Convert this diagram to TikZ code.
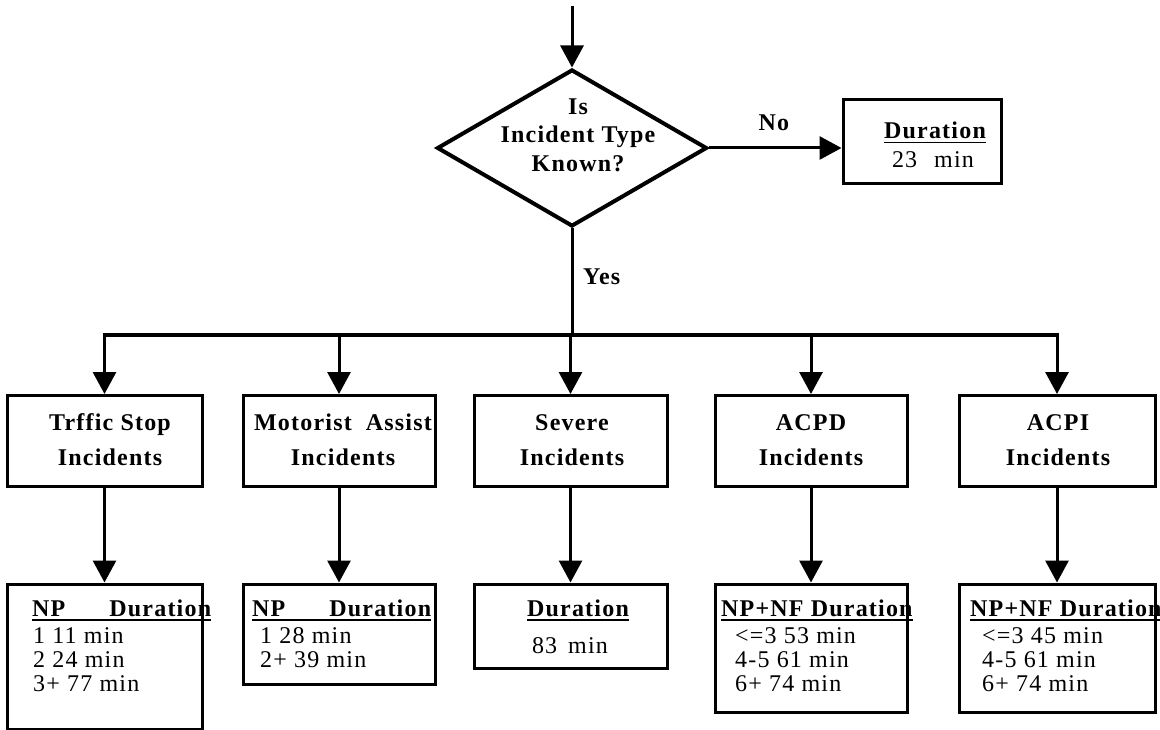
\documentclass[tikz,border=0pt]{standalone}
\usepackage{fontspec}
\setmainfont{Liberation Serif}
\newfontfamily\spaced{Liberation Serif}[LetterSpace=5]
\usetikzlibrary{shapes.geometric,arrows.meta}
% underline drawn as a rule under the whole box of text
\newcommand\ulbox[1]{\setbox0=\hbox{#1}\rlap{\rule[-4.5pt]{\wd0}{1.8pt}}\box0}

\begin{document}
\begin{tikzpicture}[x=1pt,y=-1pt,
  box/.style={draw,line width=3pt,rectangle,inner sep=0pt},
  lbl/.style={font=\spaced\bfseries\fontsize{24}{35}\selectfont,align=center,inner sep=0pt},
  qlbl/.style={font=\spaced\bfseries\fontsize{24}{28.5}\selectfont,align=center,inner sep=0pt},
  txt/.style={font=\spaced\fontsize{24}{28}\selectfont,inner sep=0pt,anchor=base west},
  ctxt/.style={font=\spaced\fontsize{24}{28}\selectfont,inner sep=0pt,anchor=base},
  hdr/.style={font=\spaced\bfseries\fontsize{24}{28}\selectfont,inner sep=0pt,anchor=base west},
  chdr/.style={font=\spaced\bfseries\fontsize{24}{28}\selectfont,inner sep=0pt,anchor=base},
  link/.style={line width=3pt},
  arr/.style={line width=3pt,-{Triangle[width=23pt,length=22pt]}},
]
\useasboundingbox (0,0) rectangle (1160,730);

% decision
\node[diamond,draw,line width=4pt,inner sep=0pt,minimum width=270pt,minimum height=157pt] (q) at (572,148) {};
\node[qlbl] (qt) at (578,135) {Is\\Incident Type\\Known?};
\coordinate (in) at (572,6);

% unknown type
\node[box,minimum width=158pt,minimum height=84pt] (d0) at (922,142) {};
\node[chdr] (d0h) at (935,139) {\ulbox{Duration}};
\node[ctxt] (d0v) at (933,168) {23\hspace{17pt}min};

% incident types
\node[box,minimum width=195pt,minimum height=91pt] (ts) at (104.5,441) {};
\node[box,minimum width=192pt,minimum height=91pt] (ma) at (339,441) {};
\node[box,minimum width=193pt,minimum height=91pt] (sv) at (570.5,441) {};
\node[box,minimum width=192pt,minimum height=91pt] (ap) at (811,441) {};
\node[box,minimum width=196pt,minimum height=91pt] (ai) at (1057,441) {};
\node[lbl] (tst) at (110,440) {Trffic Stop\\Incidents};
\node[lbl] (mat) at (343,440) {Motorist\hspace{14pt}Assist\\Incidents};
\node[lbl] (svt) at (572,440) {Severe\\Incidents};
\node[lbl] (apt) at (811,440) {ACPD\\Incidents};
\node[lbl] (ait) at (1058,440) {ACPI\\Incidents};

% durations per type
\node[box,minimum width=195pt,minimum height=145pt] (tsr) at (104.5,656.5) {};
\node[box,minimum width=192pt,minimum height=100pt] (mar) at (339,634) {};
\node[box,minimum width=193pt,minimum height=84pt] (svr) at (570.5,626) {};
\node[box,minimum width=192pt,minimum height=128pt] (apr) at (811,648) {};
\node[box,minimum width=196pt,minimum height=128pt] (air) at (1057,648) {};

\node[hdr] (tsh) at (32,616) {\ulbox{NP\hspace{44pt}Duration}};
\node[txt] (ts1) at (33,643) {1 11 min};
\node[txt] (ts2) at (33,667) {2 24 min};
\node[txt] (ts3) at (33,691) {3+ 77 min};

\node[hdr] (mah) at (252,616) {\ulbox{NP\hspace{44pt}Duration}};
\node[txt] (ma1) at (260,643) {1 28 min};
\node[txt] (ma2) at (260,667) {2+ 39 min};

\node[chdr] (svh) at (578,616) {\ulbox{Duration}};
\node[ctxt] (sv1) at (570,653) {83\hspace{11pt}min};

\node[hdr] (aph) at (721,616) {\ulbox{NP+NF Duration}};
\node[txt] (ap1) at (735,643) {<=3 53 min};
\node[txt] (ap2) at (735,667) {4-5 61 min};
\node[txt] (ap3) at (735,691) {6+ 74 min};

\node[hdr] (aih) at (970,616) {\ulbox{NP+NF Duration}};
\node[txt] (ai1) at (982,643) {<=3 45 min};
\node[txt] (ai2) at (982,667) {4-5 61 min};
\node[txt] (ai3) at (982,691) {6+ 74 min};

% connectors
\draw[arr] (in) -- (q.north);
\draw[arr] (q.east) -- (q.east -| d0.west);
\node[qlbl,anchor=base] (no) at (774,131) {No};
\node[qlbl,anchor=base west] (yes) at (583,284) {Yes};

\coordinate (busL) at (ts.north |- 0,335);
\coordinate (busR) at (ai.north |- 0,335);
\draw[link] (q.south) -- (q.south |- busL);
\draw[line width=4pt,line cap=rect] (busL) -- (busR);
\foreach \n in {ts,ma,sv,ap,ai}{
  \draw[arr] (\n.north |- busL) -- (\n.north);
  \draw[arr] (\n) -- (\n r);
}
\end{tikzpicture}
\end{document}
